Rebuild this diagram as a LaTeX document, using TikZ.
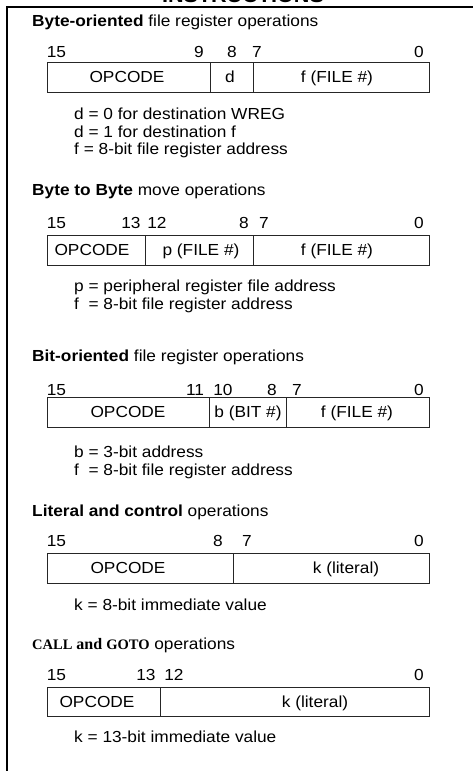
\documentclass[tikz,border=0pt]{standalone}
\usepackage{fontspec}
\setmainfont{Liberation Sans}[FakeStretch=1.08]
\newfontfamily\callfont{Liberation Serif}
\usetikzlibrary{calc}

\begin{document}
\begin{tikzpicture}[x=1pt, y=-1pt,
          every node/.style={font=\fontsize{16}{19}\selectfont, inner sep=0pt},
          regbox/.style={draw=black!85, line width=1pt},
          rule/.style={line width=2pt},
          bitno/.style={anchor=base},
          fieldtxt/.style={anchor=base},
          head/.style={anchor=base west},
          note/.style={anchor=base west},
        ]
        \useasboundingbox (0,0) rectangle (475,771);
        % title, cut off by the page edge
        \node[font=\fontsize{20}{24}\selectfont\bfseries, anchor=base] (title) at (243,2.5) {INSTRUCTIONS};
        \draw[rule] (7,7) -- (473,7);
        \draw[rule] (7,6) -- (7,771);

        % byte-oriented
        \node[head] (hbyte) at (32,27) {\textbf{Byte-oriented} file register operations};
        \foreach \x/\n in {56.5/15, 199/9, 232/8, 257/7, 419/0}
          \node[bitno] (byte-\n) at (\x,57) {\n};
        \draw[regbox] (47,62) rectangle (429,92);
        \draw[regbox] (210,62) -- (210,92);
        \draw[regbox] (253,62) -- (253,92);
        \node[fieldtxt] (byte-op) at (127,82.5) {OPCODE};
        \node[fieldtxt] (byte-d) at (230,82.5) {d};
        \node[fieldtxt] (byte-f) at (337,82.5) {f (FILE \#)};
        \node[note] (byte-n1) at (74,119.5) {d = 0 for destination WREG};
        \node[note] (byte-n2) at (74,137) {d = 1 for destination f};
        \node[note] (byte-n3) at (74,154.5) {f = 8-bit file register address};

        % byte to byte
        \node[head] (hmove) at (32,195) {\textbf{Byte to Byte} move operations};
        \foreach \x/\n in {56.5/15, 131/13, 157/12, 244/8, 264/7, 419/0}
          \node[bitno] (move-\n) at (\x,228.5) {\n};
        \draw[regbox] (47,235) rectangle (429,265);
        \draw[regbox] (145,235) -- (145,265);
        \draw[regbox] (253,235) -- (253,265);
        \node[fieldtxt] (move-op) at (92,255.5) {OPCODE};
        \node[fieldtxt] (move-p) at (201,255.5) {p (FILE \#)};
        \node[fieldtxt] (move-f) at (337,255.5) {f (FILE \#)};
        \node[note] (move-n1) at (74,291) {p = peripheral register file address};
        \node[note] (move-n2) at (74,309) {f~ = 8-bit file register address};

        % bit-oriented
        \node[head] (hbit) at (32,361.5) {\textbf{Bit-oriented} file register operations};
        \foreach \x/\n in {56.5/15, 195/11, 223/10, 272/8, 297/7, 419/0}
          \node[bitno] (bit-\n) at (\x,395) {\n};
        \draw[regbox] (47,397) rectangle (429,427);
        \draw[regbox] (209,397) -- (209,427);
        \draw[regbox] (286,397) -- (286,427);
        \node[fieldtxt] (bit-op) at (128,417.5) {OPCODE};
        \node[fieldtxt] (bit-b) at (248,417.5) {b (BIT \#)};
        \node[fieldtxt] (bit-f) at (357,417.5) {f (FILE \#)};
        \node[note] (bit-n1) at (74,457) {b = 3-bit address};
        \node[note] (bit-n2) at (74,475) {f~ = 8-bit file register address};

        % literal and control
        \node[head] (hlit) at (32,516) {\textbf{Literal and control} operations};
        \foreach \x/\n in {56.5/15, 218/8, 247/7, 419/0}
          \node[bitno] (lit-\n) at (\x,546.5) {\n};
        \draw[regbox] (47,553) rectangle (429,583);
        \draw[regbox] (233,553) -- (233,583);
        \node[fieldtxt] (lit-op) at (128,573.5) {OPCODE};
        \node[fieldtxt] (lit-k) at (346,573.5) {k (literal)};
        \node[note] (lit-n1) at (74,610) {k = 8-bit immediate value};

        % call and goto
        \node[head] (hcall) at (32,649) {{\callfont\bfseries{\fontsize{14.5}{17}\selectfont CALL} and {\fontsize{14.5}{17}\selectfont GOTO}} operations};
        \foreach \x/\n in {56.5/15, 146/13, 174/12, 419/0}
          \node[bitno] (call-\n) at (\x,680.5) {\n};
        \draw[regbox] (47,687) rectangle (429,716);
        \draw[regbox] (160,687) -- (160,716);
        \node[fieldtxt] (call-op) at (97,707) {OPCODE};
        \node[fieldtxt] (call-k) at (315,707) {k (literal)};
        \node[note] (call-n1) at (74,742) {k = 13-bit immediate value};
      \end{tikzpicture}
\end{document}
